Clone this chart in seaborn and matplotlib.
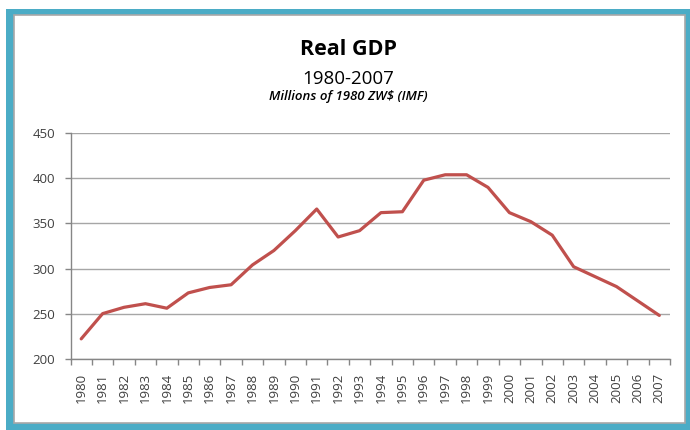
import numpy as np
import pandas as pd
import matplotlib
matplotlib.use("Agg")
import matplotlib.pyplot as plt
from matplotlib.patches import Rectangle
import seaborn as sns

years = [str(y) for y in range(1980, 2008)]
real_gdp = [222, 250, 257, 261, 256, 273, 279, 282, 304, 320,
            342, 366, 335, 342, 362, 363, 398, 404, 404, 390,
            362, 352, 337, 302, 291, 280, 264, 248]
y_ticks = [200, 250, 300, 350, 400, 450]

title = "Real GDP"
subtitle = "1980-2007"
units = "Millions of 1980 ZW$ (IMF)"

sns.set_theme(style="white")
plt.rcParams["font.family"] = ["Open Sans", "DejaVu Sans"]

df = pd.DataFrame({"pos": np.arange(len(years)), "gdp": real_gdp})

W, H = 690, 430
fig = plt.figure(figsize=(W / 100, H / 100), dpi=100)
fig.patch.set_facecolor("white")


def px_rect(x0, y0, x1, y1, **kw):
    """Rectangle given in top-down pixel coordinates."""
    return Rectangle((x0 / W, 1 - y1 / H), (x1 - x0) / W, (y1 - y0) / H,
                     transform=fig.transFigure, **kw)


# teal frame with a white panel inside
fig.patches.append(px_rect(6, 9, 690, 430, facecolor="#4bacc6",
                           edgecolor="none", zorder=0))
fig.patches.append(px_rect(14, 15, 684.5, 423, facecolor="white",
                           edgecolor="#a8a8a8", linewidth=1.2, zorder=1))

ax = fig.add_axes([70.5 / W, 1 - 358.7 / H, 599.5 / W, 225.4 / H])
ax.set_facecolor("none")
ax.set_zorder(2)

sns.lineplot(data=df, x="pos", y="gdp", ax=ax, color="#c0504d",
             linewidth=2.3, zorder=3)

ax.set_xlim(-0.5, len(years) - 0.5)
ax.set_ylim(y_ticks[0], y_ticks[-1])
ax.set_yticks(y_ticks)
ax.set_yticklabels([str(v) for v in y_ticks], fontsize=9.5, color="#404040")
ax.set_xticks(np.arange(len(years)))
ax.set_xticklabels(years, rotation=90, fontsize=9.5, color="#404040")
ax.set_xticks(np.arange(len(years) + 1) - 0.5, minor=True)
ax.tick_params(axis="x", which="major", length=0, pad=10)
ax.tick_params(axis="x", which="minor", length=4, color="#868686", width=1,
               direction="out", bottom=True)
ax.tick_params(axis="y", which="major", length=4, color="#868686", width=1,
               direction="out", left=True, pad=7)

ax.grid(axis="y", color="#a6a6a6", linewidth=1.0)
ax.grid(axis="x", visible=False)
ax.set_axisbelow(True)
for side in ("top", "right"):
    ax.spines[side].set_visible(False)
for side in ("left", "bottom"):
    ax.spines[side].set_color("#868686")
    ax.spines[side].set_linewidth(1.0)
ax.set_xlabel("")
ax.set_ylabel("")

cx = 348 / W
fig.text(cx, 1 - 49.5 / H, title, ha="center", va="center",
         fontsize=15.5, fontweight="bold", color="black")
fig.text(cx, 1 - 79 / H, subtitle, ha="center", va="center",
         fontsize=13.5, color="black")
fig.text(cx, 1 - 96.5 / H, units, ha="center", va="center",
         fontsize=9.5, fontstyle="italic", fontweight="semibold",
         color="black")

fig.savefig("out.png", dpi=100, facecolor="white")
